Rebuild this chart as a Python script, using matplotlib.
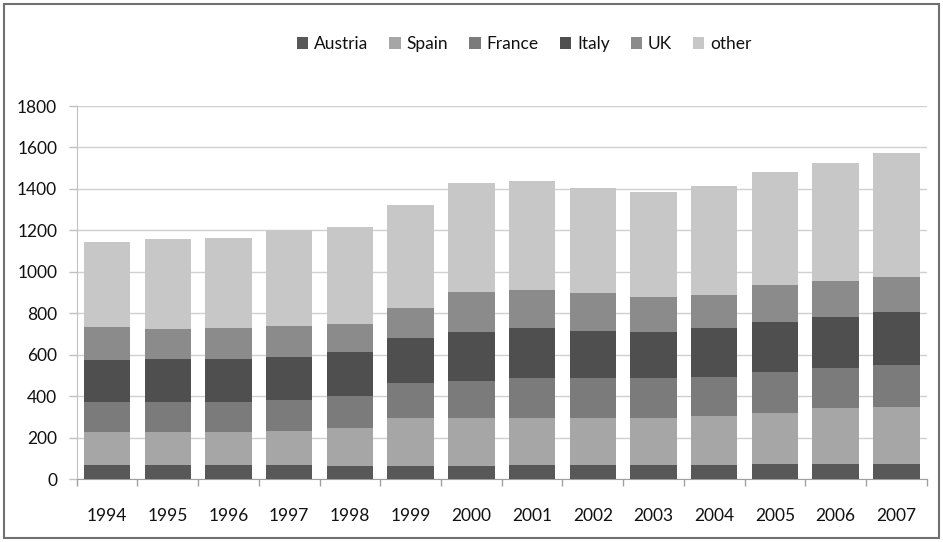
import numpy as np
import matplotlib.pyplot as plt
from matplotlib.patches import Rectangle

years = [str(y) for y in range(1994, 2008)]

austria = [69, 69, 69, 67, 66, 66, 66, 69, 69, 69, 69, 75, 75, 75]
spain = [158, 158, 158, 167, 183, 231, 231, 228, 225, 228, 236, 243, 267, 272]
france = [144, 144, 144, 148, 153, 166, 179, 191, 193, 190, 190, 198, 196, 203]
italy = [204, 208, 208, 208, 213, 217, 234, 240, 230, 223, 233, 241, 246, 257]
uk = [161, 146, 152, 149, 135, 147, 192, 185, 180, 171, 161, 180, 171, 170]
other = [408, 434, 434, 463, 467, 494, 528, 525, 509, 506, 525, 543, 569, 598]

series = [("Austria", austria, "#585858"),
          ("Spain", spain, "#a6a6a6"),
          ("France", france, "#7b7b7b"),
          ("Italy", italy, "#4f4f4f"),
          ("UK", uk, "#8b8b8b"),
          ("other", other, "#c7c7c7")]

plt.rcParams['font.family'] = ['Lato', 'DejaVu Sans']

fig = plt.figure(figsize=(9.43, 5.42), dpi=100)
ax = fig.add_axes([0.0813, 0.1157, 0.9014, 0.6887])

x = np.arange(len(years))
bottom = np.zeros(len(years))
for name, vals, col in series:
    ax.bar(x, vals, width=0.765, bottom=bottom, color=col, label=name, zorder=3)
    bottom += np.array(vals)

ax.set_xlim(-0.5, len(years) - 0.5)
ax.set_ylim(0, 1800)
ax.set_yticks(range(0, 1801, 200))
ax.set_xticks(x)
ax.set_xticklabels(years)
ax.set_xticks(np.arange(-0.5, len(years), 1), minor=True)

ax.grid(axis='y', color='#d0d0d0', lw=1, zorder=0)
for s in ['top', 'right']:
    ax.spines[s].set_visible(False)
ax.spines['left'].set_color('#c0c0c0')
ax.spines['bottom'].set_color('#a0a0a0')

ax.tick_params(axis='y', length=6, width=1, color='#c0c0c0', pad=8,
               labelsize=12.5, labelcolor='#111111')
ax.tick_params(axis='x', which='major', length=0, pad=21,
               labelsize=12.5, labelcolor='#111111')
ax.tick_params(axis='x', which='minor', length=5, width=1, color='#a0a0a0')

fig.legend(loc='center', bbox_to_anchor=(0.556, 0.919), ncol=6,
           frameon=False, fontsize=12.5, handlelength=0.65, handleheight=0.65,
           handletextpad=0.35, columnspacing=1.2, labelcolor='#111111')

# outer frame
fig.patches.append(Rectangle((0.004, 0.007), 0.992, 0.986, transform=fig.transFigure,
                             fill=False, edgecolor='#707070', lw=1.5))

fig.savefig('out.png', dpi=100)
